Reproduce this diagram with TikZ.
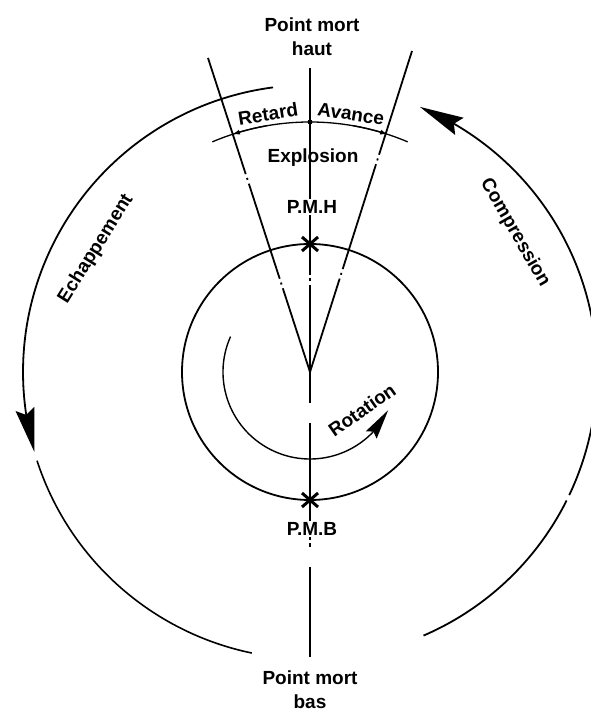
\documentclass[tikz,border=0pt]{standalone}
\usepackage{fontspec}
\setmainfont{Liberation Sans}
\usetikzlibrary{arrows.meta,bending}
\begin{document}
\begin{tikzpicture}[x=1pt,y=1pt,
  lbl/.style={font=\fontsize{19}{24}\selectfont\bfseries, inner sep=1pt},
  mainline/.style={line width=1.8pt},
  axisline/.style={line width=1.2pt},
  bigtip/.style={-{Stealth[length=44pt,width=19pt,inset=6pt]}},
  midtip/.style={-{Stealth[length=30pt,width=13pt,inset=4pt]}},
  smalltip/.style={-{Latex[length=8pt,width=5pt]}},
  crossmark/.style={line width=3pt}
]
\useasboundingbox (0,0) rectangle (590,712);
\fill[white] (0,0) rectangle (590,712);

% key points
\coordinate (C) at (310,340);
\coordinate (vt) at (310,644);
\coordinate (vb) at (310,55);
\coordinate (lt) at (208,654);
\coordinate (rt) at (412,661);
\coordinate (pmh) at (310,468);
\coordinate (pmb) at (310,212);
\coordinate (dimc) at (310,590);

% vertical centre line (chain line)
\draw[axisline, dash pattern=on 207pt off 3pt on 3pt off 4pt on 118pt off 20pt on 117pt off 3pt on 4pt off 20pt on 200pt] (vt) -- (vb);

% V lines
\draw[mainline, dash pattern=on 88pt off 4pt on 2pt off 4pt on 100pt off 4pt on 2pt off 4pt on 300pt] (C) -- (lt);
\draw[mainline, dash pattern=on 98pt off 4pt on 2pt off 4pt on 110pt off 4pt on 2pt off 4pt on 300pt] (C) -- (rt);

% inner circle
\draw[mainline] (C) circle[radius=128];

% rotation arc
\draw[line width=1.4pt, midtip] ([shift={(156:87)}]C) arc[start angle=156, end angle=334, radius=87];

% crosses
\draw[crossmark] ([shift={(-8,-7)}]pmh) -- ([shift={(8,7)}]pmh);
\draw[crossmark] ([shift={(-8,7)}]pmh) -- ([shift={(8,-7)}]pmh);
\draw[crossmark] ([shift={(-8,-7)}]pmb) -- ([shift={(8,7)}]pmb);
\draw[crossmark] ([shift={(-8,7)}]pmb) -- ([shift={(8,-7)}]pmb);

% advance / retard dimension arc
\draw[line width=1.3pt] ([shift={(113:250)}]C) arc[start angle=113, end angle=67, radius=250];
\draw[line width=1.3pt, smalltip] ([shift={(100:250)}]C) arc[start angle=100, end angle=108.2, radius=250];
\draw[line width=1.3pt, smalltip] ([shift={(80:250)}]C) arc[start angle=80, end angle=71.8, radius=250];
\fill (dimc) circle[radius=2.5pt];

% outer arcs
\draw[mainline, bigtip] ([shift={(97.4:287)}]C) arc[start angle=97.4, end angle=196.2, radius=287];
\draw[line width=1.6pt] ([shift={(198:287)}]C) arc[start angle=198, end angle=258.3, radius=287];
\draw[mainline] ([shift={(-66.7:287)}]C) arc[start angle=-66.7, end angle=-26.6, radius=287];
\draw[mainline, bigtip] ([shift={(-25.4:287)}]C) arc[start angle=-25.4, end angle=67.5, radius=287];

% labels
\node[lbl, align=center] (top) at (312,675) {Point mort\\haut};
\node[lbl, rotate=9] (ret) at (268,598) {Retard};
\node[lbl, rotate=-9] (ava) at (351,598) {Avance};
\node[lbl] (expl) at (313,554) {Explosion};
\node[lbl, fill=white] (pmhl) at (312,505) {P.M.H};
\node[lbl, fill=white] (pmbl) at (312,183) {P.M.B};
\node[lbl, rotate=35] (rot) at (362,302) {Rotation};
\node[lbl, rotate=58] (ech) at (96,463) {Echappement};
\node[lbl, rotate=-60] (comp) at (515,479) {Compression};
\node[lbl, align=center] (bot) at (310,22) {Point mort\\bas};
\end{tikzpicture}
\end{document}
